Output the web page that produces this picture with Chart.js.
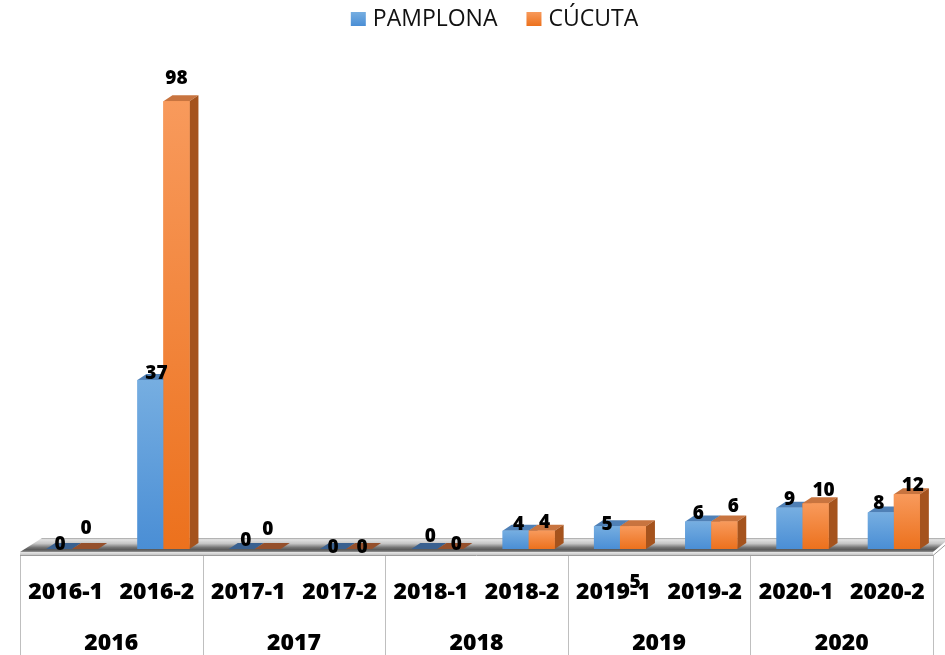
<!DOCTYPE html>
<html><head><meta charset="utf-8">
<script src="https://cdn.jsdelivr.net/npm/chart.js@4.4.1/dist/chart.umd.min.js"></script>
<style>html,body{margin:0;padding:0;background:#fff}#wrap{width:945px;height:655px}</style>
</head><body><div id="wrap"><canvas id="c" width="945" height="655"></canvas></div>
<script>
// ---- data ----
const categories = ['2016-1','2016-2','2017-1','2017-2','2018-1','2018-2','2019-1','2019-2','2020-1','2020-2'];
const years = ['2016','2017','2018','2019','2020'];
const seriesNames = ['PAMPLONA','CÚCUTA'];
const pamplona = [0,37,0,0,0,4,5,6,9,8];
const cucuta = [0,98,0,0,0,4,5,6,10,12];
const yMax = 100;

// ---- style ----
const FONT = '"Open Sans", "Noto Sans", sans-serif';
const DX = 9, DY = 6;          // 3D depth of bars
const LABEL_SHIFT = -6.5;      // category labels vs bar pair centre
const colors = [
  {top:'#4f80b6', side:'#3b6a9c', zero:'#3a6190', g0:'#76aee1', g1:'#4a8ed5', legend:'#5b9bd5'},
  {top:'#c8743f', side:'#a5531d', zero:'#95502c', g0:'#f89a5c', g1:'#ec711d', legend:'#f07e2a'}
];
// label nudges (dx, dy) relative to default placement above each bar
const labelNudge = {
  '0-0':[-3,5],  '1-0':[-3,-11],
  '0-1':[2,3],   '1-1':[-4,-13],
  '0-2':[0,1],   '1-2':[-4,-10],
  '0-3':[-4,8],  '1-3':[-1,8],
  '0-4':[2,-3],  '1-4':[2,5],
  '0-5':[-1,3],  '1-5':[-1,1],
  '0-6':[-4,8],  '1-6':[-2,66],
  '0-7':[-4,1],  '1-7':[5,-6],
  '0-8':[-4,1],  '1-8':[4,-3],
  '0-9':[-6,1],  '1-9':[2,1]
};

function props(el){ return el.getProps(['x','y','base','width'], true); }

const threeD = {
  id:'threeD',
  beforeDatasetsDraw(chart){
    const c = chart.ctx, a = chart.chartArea;
    const base = chart.scales.y.getPixelForValue(0);
    c.save();
    // separators of the grouped axis
    const xs = chart.scales.x;
    const step = xs.getPixelForValue(1) - xs.getPixelForValue(0);
    c.strokeStyle = '#bfbfbf'; c.lineWidth = 1;
    for (let k = 0; k <= years.length; k++) {
      const i = Math.min(k*2, categories.length);
      const x = Math.round(xs.getPixelForValue(0) - step/2 + step*i + LABEL_SHIFT) + 0.5;
      c.beginPath(); c.moveTo(x, base+6); c.lineTo(x, chart.height); c.stroke();
    }
    // floor plate
    const fl = a.left + LABEL_SHIFT, fr = a.right + LABEL_SHIFT;
    const yb = base - 11, yf = base + 3;
    let g = c.createLinearGradient(0, yb, 0, yf);
    g.addColorStop(0, '#a0a0a0');
    g.addColorStop(0.12, '#e2e2e2');
    g.addColorStop(0.4, '#c4c4c4');
    g.addColorStop(0.68, '#747474');
    g.addColorStop(0.85, '#575757');
    g.addColorStop(1, '#959595');
    c.fillStyle = g;
    c.beginPath();
    c.moveTo(fl, yf); c.lineTo(fl+22, yb); c.lineTo(chart.width+5, yb); c.lineTo(fr, yf); c.closePath();
    c.fill();
    // front edge
    g = c.createLinearGradient(0, yf, 0, yf+4);
    g.addColorStop(0, '#e8e8e8'); g.addColorStop(1, '#b8b8b8');
    c.fillStyle = g;
    c.beginPath();
    c.moveTo(fl, yf); c.lineTo(fr, yf); c.lineTo(fr, yf+3); c.lineTo(fl, yf+3); c.closePath(); c.fill();
    c.strokeStyle = '#9c9c9c';
    c.beginPath(); c.moveTo(fl, yf+3.5); c.lineTo(fr, yf+3.5); c.lineTo(chart.width+5, yb+3); c.stroke();
    // top and side faces
    chart.data.datasets.forEach((ds, di) => {
      chart.getDatasetMeta(di).data.forEach((el, i) => {
        const p = props(el);
        const L = p.x - p.width/2, R = p.x + p.width/2, T = p.y, B = p.base;
        const col = colors[di];
        c.fillStyle = (B - T) < 0.5 ? col.zero : col.top;
        c.beginPath();
        c.moveTo(L, T); c.lineTo(R, T); c.lineTo(R+DX, T-DY); c.lineTo(L+DX, T-DY); c.closePath(); c.fill();
        if (B - T > 0.5) {
          c.fillStyle = col.side;
          c.beginPath();
          c.moveTo(R, T); c.lineTo(R+DX, T-DY); c.lineTo(R+DX, B-DY); c.lineTo(R, B); c.closePath(); c.fill();
        }
      });
    });
    c.restore();
  },
  afterDatasetsDraw(chart){
    const c = chart.ctx;
    c.save();
    // front faces with per-bar gradient
    chart.data.datasets.forEach((ds, di) => {
      chart.getDatasetMeta(di).data.forEach((el) => {
        const p = props(el);
        const L = p.x - p.width/2, T = p.y, B = p.base;
        if (B - T < 0.5) return;
        const g = c.createLinearGradient(0, T, 0, B);
        g.addColorStop(0, colors[di].g0); g.addColorStop(1, colors[di].g1);
        c.fillStyle = g;
        c.fillRect(L, T, p.width, B - T);
      });
    });
    // data labels
    c.fillStyle = '#000';
    c.font = '800 19px ' + FONT;
    c.textAlign = 'center'; c.textBaseline = 'alphabetic';
    chart.data.datasets.forEach((ds, di) => {
      chart.getDatasetMeta(di).data.forEach((el, i) => {
        const p = props(el);
        const n = labelNudge[di + '-' + i] || [0,0];
        c.fillText(String(ds.data[i]), p.x + 4 + n[0], p.y - 4 + n[1]);
      });
    });
    c.restore();
  },
  afterDraw(chart){
    const c = chart.ctx, xs = chart.scales.x;
    c.save();
    c.fillStyle = '#000';
    c.textAlign = 'center'; c.textBaseline = 'alphabetic';
    c.font = '800 23px ' + FONT;
    categories.forEach((lab, i) => {
      c.fillText(lab, xs.getPixelForValue(i) + LABEL_SHIFT, 599);
    });
    years.forEach((y, k) => {
      const x = (xs.getPixelForValue(2*k) + xs.getPixelForValue(2*k+1))/2 + LABEL_SHIFT;
      c.fillText(y, x, 650);
    });
    // legend
    c.font = '23px ' + FONT;
    c.textAlign = 'left';
    const box = 15, gap = 7, itemGap = 29;
    const w = seriesNames.map(s => c.measureText(s).width);
    const total = box*2 + gap*2 + w[0] + w[1] + itemGap;
    let x = 494.5 - total/2;
    seriesNames.forEach((s, di) => {
      const g = c.createLinearGradient(0, 12, 0, 26);
      g.addColorStop(0, colors[di].g0); g.addColorStop(1, colors[di].g1);
      c.fillStyle = g;
      c.fillRect(x, 12, box, 14);
      x += box + gap;
      c.fillStyle = '#111';
      c.fillText(s, x, 26);
      x += w[di] + itemGap;
    });
    c.restore();
  }
};

new Chart(document.getElementById('c'), {
  type: 'bar',
  data: {
    labels: categories,
    datasets: [
      {label: seriesNames[0], data: pamplona, backgroundColor: colors[0].g1, borderWidth: 0},
      {label: seriesNames[1], data: cucuta, backgroundColor: colors[1].g1, borderWidth: 0}
    ]
  },
  options: {
    responsive: false, animation: false, devicePixelRatio: 1,
    layout: {padding: {left: 26.5, right: 5.5, top: 92, bottom: 106}},
    datasets: {bar: {categoryPercentage: 0.5695, barPercentage: 1}},
    plugins: {legend: {display: false}, tooltip: {enabled: false}},
    scales: {
      x: {display: false, offset: true},
      y: {display: false, min: 0, max: yMax}
    }
  },
  plugins: [threeD]
});
</script></body></html>
